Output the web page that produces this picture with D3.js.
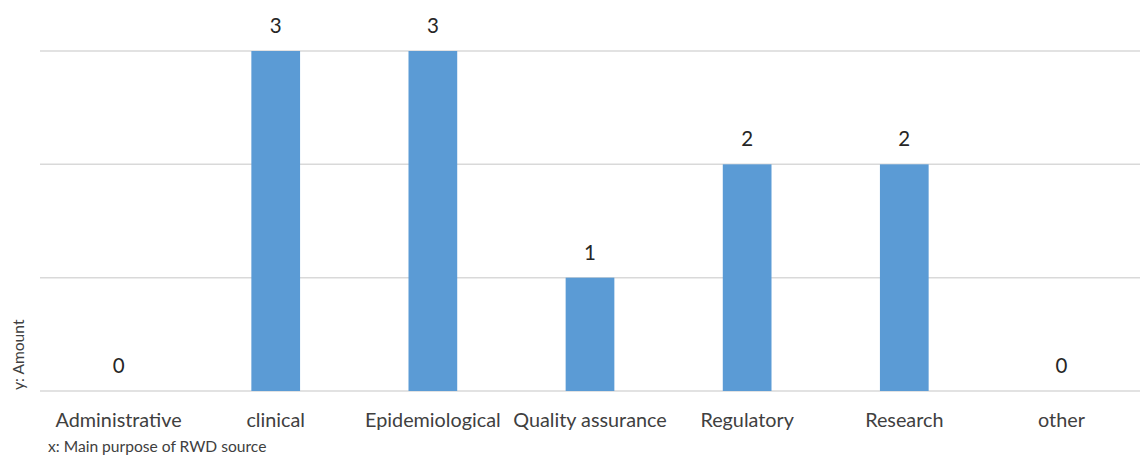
<!DOCTYPE html>
<html>
<head>
<meta charset="utf-8">
<script src="https://cdn.jsdelivr.net/npm/d3@7"></script>
<style>
  html, body { margin: 0; padding: 0; background: #fff; }
  svg { display: block; font-family: Lato, "Open Sans", sans-serif; }
</style>
</head>
<body>
<svg id="chart" width="1146" height="456"></svg>
<script>
// Main purpose of RWD source, counted per category
const categories = ["Administrative", "clinical", "Epidemiological", "Quality assurance", "Regulatory", "Research", "other"];
const amounts = [0, 3, 3, 1, 2, 2, 0];
const gridValues = [0, 1, 2, 3];

const svg = d3.select("#chart");
const margin = { left: 40, right: 6, top: 51, bottom: 65 };
const W = 1146, H = 456;

const x = d3.scaleBand()
  .domain(categories)
  .range([margin.left, W - margin.right])
  .paddingInner(0.69)
  .paddingOuter(0.345);

const y = d3.scaleLinear()
  .domain([0, 3])
  .range([H - margin.bottom, margin.top]);

// Horizontal gridlines (the bottom one doubles as the axis line)
svg.append("g")
  .selectAll("line")
  .data(gridValues)
  .join("line")
  .attr("x1", margin.left)
  .attr("x2", W - margin.right)
  .attr("y1", d => y(d))
  .attr("y2", d => y(d))
  .attr("stroke", "#d9d9d9")
  .attr("stroke-width", 1.5);

// Bars
svg.append("g")
  .selectAll("rect")
  .data(categories)
  .join("rect")
  .attr("x", d => x(d))
  .attr("width", x.bandwidth())
  .attr("y", (d, i) => y(amounts[i]))
  .attr("height", (d, i) => y(0) - y(amounts[i]))
  .attr("fill", "#5b9bd5");

// Value labels above each bar
svg.append("g")
  .selectAll("text")
  .data(categories)
  .join("text")
  .attr("x", d => x(d) + x.bandwidth() / 2)
  .attr("y", (d, i) => y(amounts[i]) - 18)
  .attr("text-anchor", "middle")
  .attr("font-size", 20.5)
  .attr("fill", "#262626")
  .text((d, i) => amounts[i]);

// Category axis without line or ticks
const xAxis = svg.append("g")
  .attr("transform", `translate(0,${y(0)})`)
  .call(d3.axisBottom(x).tickSize(0).tickPadding(22));
xAxis.select(".domain").remove();
xAxis.selectAll("text")
  .attr("font-family", "Lato, 'Open Sans', sans-serif")
  .attr("font-size", 19.8)
  .attr("fill", "#404040");

// Axis captions
svg.append("text")
  .attr("x", 48)
  .attr("y", 452)
  .attr("font-size", 15.6)
  .attr("fill", "#404040")
  .text("x: Main purpose of RWD source");

svg.append("text")
  .attr("transform", "translate(24,390) rotate(-90)")
  .attr("font-size", 15.6)
  .attr("fill", "#404040")
  .text("y: Amount");
</script>
</body>
</html>
